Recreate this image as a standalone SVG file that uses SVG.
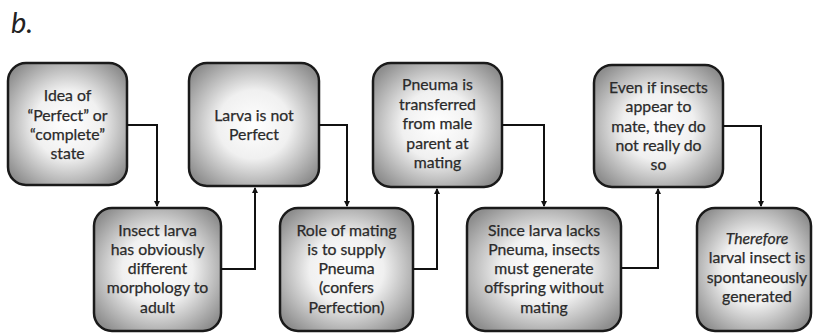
<svg xmlns="http://www.w3.org/2000/svg" width="813" height="333" viewBox="0 0 813 333">
<defs>
<radialGradient id="g" cx="50%" cy="50%" r="62%">
<stop offset="0" stop-color="#ffffff"/>
<stop offset="0.45" stop-color="#f0f0f0"/>
<stop offset="1" stop-color="#8e8e8e"/>
</radialGradient>
<marker id="ah" viewBox="0 0 6 6" refX="5" refY="3" markerWidth="3" markerHeight="3" orient="auto" markerUnits="strokeWidth">
<path d="M0,0 L6,3 L0,6 z" fill="#111"/>
</marker>
</defs>
<style>
.box{fill:url(#g);stroke:#1a1a1a;stroke-width:2.5}
.t{font-family:Lato,"Open Sans",sans-serif;font-size:15.8px;fill:#2a2a2a;stroke:#2a2a2a;stroke-width:0.25;text-anchor:middle}
.c{fill:none;stroke:#111;stroke-width:2;marker-end:url(#ah)}
</style>
<text x="11" y="33" font-family="Lato,'Open Sans',sans-serif" font-style="italic" font-size="29" fill="#222">b.</text>
<g id="n1"><rect class="box" x="8" y="63" width="119" height="122" rx="18"/>
<text class="t" x="67.5"><tspan x="67.5" y="101">Idea of</tspan><tspan x="67.5" y="121">“Perfect” or</tspan><tspan x="67.5" y="140">“complete”</tspan><tspan x="67.5" y="159">state</tspan></text></g>
<g id="n2"><rect class="box" x="189" y="63" width="130" height="123" rx="18"/>
<text class="t"><tspan x="254" y="121">Larva is not</tspan><tspan x="254" y="140">Perfect</tspan></text></g>
<g id="n3"><rect class="box" x="373" y="63" width="129" height="124" rx="18"/>
<text class="t"><tspan x="437.5" y="90">Pneuma is</tspan><tspan x="437.5" y="110">transferred</tspan><tspan x="437.5" y="129">from male</tspan><tspan x="437.5" y="149">parent at</tspan><tspan x="437.5" y="168">mating</tspan></text></g>
<g id="n4"><rect class="box" x="594" y="65" width="129" height="122" rx="18"/>
<text class="t"><tspan x="658.5" y="93">Even if insects</tspan><tspan x="658.5" y="112">appear to</tspan><tspan x="658.5" y="132">mate, they do</tspan><tspan x="658.5" y="151">not really do</tspan><tspan x="658.5" y="170">so</tspan></text></g>
<g id="n5"><rect class="box" x="94" y="208" width="127" height="123" rx="18"/>
<text class="t"><tspan x="157.5" y="236">Insect larva</tspan><tspan x="157.5" y="255">has obviously</tspan><tspan x="157.5" y="274">different</tspan><tspan x="157.5" y="293">morphology to</tspan><tspan x="157.5" y="313">adult</tspan></text></g>
<g id="n6"><rect class="box" x="280" y="208" width="133" height="123" rx="18"/>
<text class="t"><tspan x="346.5" y="236">Role of mating</tspan><tspan x="346.5" y="255">is to supply</tspan><tspan x="346.5" y="274">Pneuma</tspan><tspan x="346.5" y="293">(confers</tspan><tspan x="346.5" y="313">Perfection)</tspan></text></g>
<g id="n7"><rect class="box" x="467" y="208" width="154" height="123" rx="18"/>
<text class="t"><tspan x="544" y="236">Since larva lacks</tspan><tspan x="544" y="255">Pneuma, insects</tspan><tspan x="544" y="274">must generate</tspan><tspan x="544" y="293">offspring without</tspan><tspan x="544" y="313">mating</tspan></text></g>
<g id="n8"><rect class="box" x="697" y="208" width="114" height="123" rx="18"/>
<text class="t"><tspan x="757" y="244" font-style="italic">Therefore</tspan><tspan x="757" y="263">larval insect is</tspan><tspan x="757" y="283">spontaneously</tspan><tspan x="757" y="302">generated</tspan></text></g>
<g id="connectors">
<path class="c" d="M127,125 H157 V206"/>
<path class="c" d="M221,269 H255 V188"/>
<path class="c" d="M319,125 H347 V206"/>
<path class="c" d="M413,269 H437 V189"/>
<path class="c" d="M502,125 H544 V206"/>
<path class="c" d="M621,268 H658 V189"/>
<path class="c" d="M723,126 H761 V206"/>
</g>
</svg>
